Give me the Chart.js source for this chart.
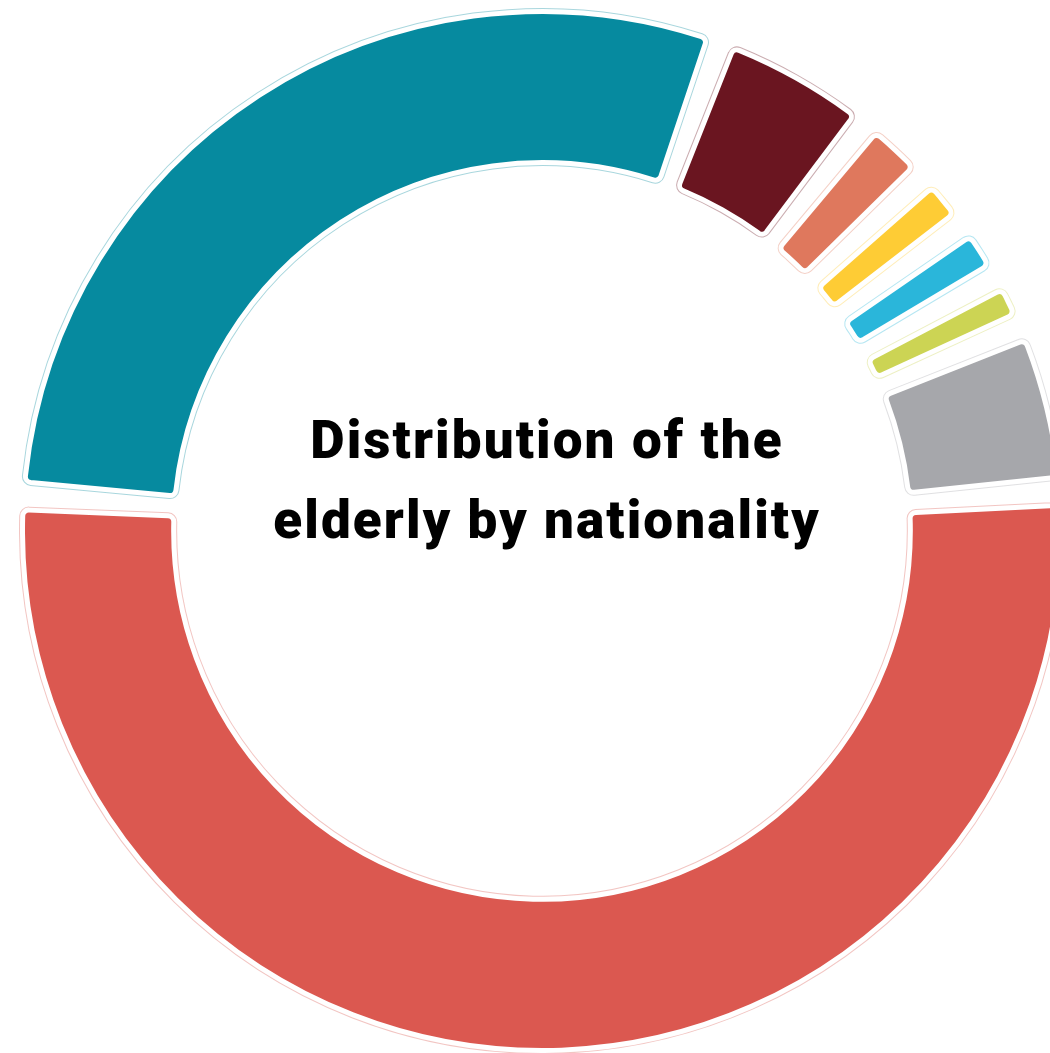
<!DOCTYPE html>
<html>
<head>
<meta charset="utf-8">
<title>Distribution of the elderly by nationality</title>
<script src="https://cdn.jsdelivr.net/npm/chart.js@4.4.0/dist/chart.umd.min.js"></script>
<style>
    html, body { margin: 0; padding: 0; background: #fff; overflow: hidden; }
    #wrap { position: relative; width: 1084px; height: 1053px; }
    #center-title {
        position: absolute;
        left: 197px;
        top: 400px;
        width: 700px;
        text-align: center;
        font-family: Roboto, "Noto Sans", sans-serif;
        font-weight: 900;
        font-size: 53px;
        line-height: 80px;
        letter-spacing: 2.1px;
        color: #000;
    }
</style>
</head>
<body>
<div id="wrap">
    <canvas id="ringChart"></canvas>
    <div id="center-title">Distribution of the<br>elderly by nationality</div>
</div>
<script>
// ─── DATA ───
const groups = ['Group 1', 'Group 2', 'Group 3', 'Group 4', 'Group 5', 'Group 6', 'Group 7', 'Group 8'];
const shares = [52.3, 29.5, 5.1, 2.4, 1.9, 1.9, 1.7, 5.2];   // percent, clockwise

const fillColors = ['#DB5850', '#068A9F', '#6A1520', '#DF785D', '#FECC35', '#2AB6DA', '#CCD454', '#A6A7AB'];
const outlineColors = ['rgba(219,88,80,0.35)', 'rgba(6,138,159,0.35)', 'rgba(106,21,32,0.35)', 'rgba(223,120,93,0.35)',
    'rgba(254,204,53,0.35)', 'rgba(42,182,218,0.35)', 'rgba(204,212,84,0.35)', 'rgba(166,167,171,0.35)'];

// gap between slices, in radians
const GAP = 3.1 * Math.PI / 180;

// ─── OUTLINE + GAP PLUGIN ───
const ringOutline = {
    id: 'ringOutline',
    beforeDatasetsDraw(chart) {
        const ctx = chart.ctx;
        chart.getDatasetMeta(0).data.forEach((arc, i) => {
            arc._keep = [arc.startAngle, arc.endAngle, arc.circumference];
            arc.startAngle += GAP / 2;
            arc.endAngle -= GAP / 2;
            arc.circumference -= GAP;
            const real = arc.options;
            arc.options = Object.assign({}, real, {
                backgroundColor: 'rgba(0,0,0,0)',
                borderColor: outlineColors[i],
                borderWidth: 7
            });
            arc.draw(ctx);
            arc.options = real;
        });
    },
    afterDatasetsDraw(chart) {
        chart.getDatasetMeta(0).data.forEach(arc => {
            [arc.startAngle, arc.endAngle, arc.circumference] = arc._keep;
        });
    }
};

new Chart(document.getElementById('ringChart'), {
    type: 'doughnut',
    data: {
        labels: groups,
        datasets: [{
            data: shares,
            backgroundColor: fillColors,
            borderColor: '#ffffff',
            borderWidth: 5,
            borderRadius: 6
        }]
    },
    options: {
        responsive: true,
        maintainAspectRatio: false,
        animation: false,
        events: [],
        rotation: 85.6,
        cutout: '70.9%',
        layout: { padding: { top: 9, bottom: 0, left: 0, right: 0 } },
        plugins: {
            legend: { display: false },
            tooltip: { enabled: false }
        }
    },
    plugins: [ringOutline]
});
</script>
</body>
</html>
